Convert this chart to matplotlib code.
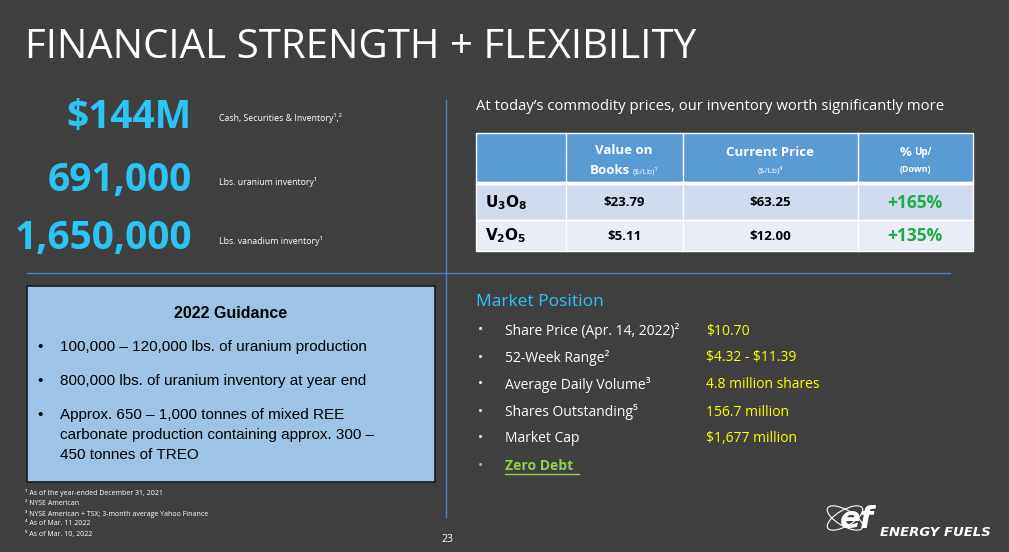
import matplotlib
matplotlib.use("Agg")
import matplotlib.pyplot as plt
from matplotlib.patches import Rectangle, Ellipse

# ---- slide content ----
title = "FINANCIAL STRENGTH + FLEXIBILITY"
big_numbers = ["$144M", "691,000", "1,650,000"]
big_labels = ["Cash, Securities & Inventory\u00b9\u02bc\u00b2".replace("\u02bc", ","),
              "Lbs. uranium inventory\u00b9", "Lbs. vanadium inventory\u00b9"]

table_intro = "At today\u2019s commodity prices, our inventory worth significantly more"
commodities = [r"$\mathbf{U_3O_8}$", r"$\mathbf{V_2O_5}$"]
book_values = ["$23.79", "$5.11"]
current_prices = ["$63.25", "$12.00"]
pct_change = ["+165%", "+135%"]

guidance_title = "2022 Guidance"
guidance_items = [
    ["100,000 \u2013 120,000 lbs. of uranium production"],
    ["800,000 lbs. of uranium inventory at year end"],
    ["Approx. 650 \u2013 1,000 tonnes of mixed REE",
     "carbonate production containing approx. 300 \u2013",
     "450 tonnes of TREO"],
]

market_labels = ["Share Price (Apr. 14, 2022)\u00b2", "52-Week Range\u00b2", "Average Daily Volume\u00b3",
                 "Shares Outstanding\u2075", "Market Cap"]
market_values = ["$10.70", "$4.32 - $11.39", "4.8 million shares", "156.7 million", "$1,677 million"]

footnotes = ["\u00b9 As of the year-ended December 31, 2021", "\u00b2 NYSE American",
             "\u00b3 NYSE American + TSX; 3-month average Yahoo Finance",
             "\u2074 As of Mar. 11 2022", "\u2075 As of Mar. 10, 2022"]

BG = "#404040"
CYAN = "#2BC4F5"
LINE = "#4F81BD"

fig = plt.figure(figsize=(10.09, 5.52), dpi=100)
fig.patch.set_facecolor(BG)
ax = fig.add_axes([0, 0, 1, 1])
ax.set_xlim(0, 1009)
ax.set_ylim(552, 0)
ax.axis("off")
ax.set_facecolor(BG)

F = "Open Sans"
ax.text(25, 48, title, color="white", fontsize=29, family=F, va="center")

# big numbers
for y, num, lab in zip([117, 180, 239], big_numbers, big_labels):
    ax.text(192, y, num, color=CYAN, fontsize=28, family=F, weight="bold", ha="right", va="center",
            parse_math=False)
    ax.text(219, y + 1 if y == 117 else y + 2, lab, color="white", fontsize=6.3, family=F, va="center")

# separators
ax.plot([446, 446], [100, 517], color=LINE, lw=1)
ax.plot([27, 950], [273, 273], color=LINE, lw=1)

# table
ax.text(476, 106, table_intro, color="white", fontsize=10.7, family=F, va="center")
cols = [476, 566, 683, 858, 973]
ax.add_patch(Rectangle((476, 133), 497, 49, fc="#5B9BD5", ec="white", lw=1))
ax.add_patch(Rectangle((476, 184), 497, 36, fc="#D0DBEE", ec="white", lw=1))
ax.add_patch(Rectangle((476, 220), 497, 31, fc="#E9EDF5", ec="white", lw=1))
for c in cols[1:-1]:
    ax.plot([c, c], [133, 251], color="white", lw=1)
ax.plot([477, 972], [183, 183], color="white", lw=2.5)
ax.text(624, 150, "Value on", color="white", fontsize=9.5, family=F, weight="bold", ha="center", va="center")
ax.text(630, 170, "Books", color="white", fontsize=9.5, family=F, weight="bold", ha="right", va="center")
ax.text(633, 171, "($/Lb)\u00b9", color="white", fontsize=6, family=F, ha="left", va="center",
        parse_math=False)
ax.text(770, 152, "Current Price", color="white", fontsize=9.5, family=F, weight="bold", ha="center", va="center")
ax.text(770, 170, "($/Lb)\u2074", color="white", fontsize=6, family=F, ha="center", va="center",
        parse_math=False)
ax.text(911, 152, "%", color="white", fontsize=9.5, family=F, weight="bold", ha="right", va="center")
ax.text(914, 153, "Up/", color="white", fontsize=7, family=F, weight="bold", ha="left", va="center")
ax.text(915, 170, "(Down)", color="white", fontsize=6.5, family=F, weight="bold", ha="center", va="center")
for y, com, bv, cp, pc in zip([203, 236], commodities, book_values, current_prices, pct_change):
    ax.text(485, y, com, color="black", fontsize=11, va="center")
    ax.text(624, y, bv, color="black", fontsize=9.5, family=F, weight="bold", ha="center", va="center",
            parse_math=False)
    ax.text(770, y, cp, color="black", fontsize=9.5, family=F, weight="bold", ha="center", va="center",
            parse_math=False)
    ax.text(915, y, pc, color="#1FAA4E", fontsize=12.5, family=F, weight="bold", ha="center", va="center")

# guidance box
ax.add_patch(Rectangle((27, 286), 408, 196, fc="#9DC3E6", ec="#1a1a1a", lw=1.2))
ax.text(231, 313, guidance_title, color="black", fontsize=11.5, family="Liberation Sans",
        weight="bold", ha="center", va="center")
gy = 347
for item in guidance_items:
    ax.text(37, gy, "\u2022", color="black", fontsize=11, family="Liberation Sans", va="center")
    for i, line in enumerate(item):
        ax.text(60, gy + 20 * i, line, color="black", fontsize=11, family="Liberation Sans", va="center")
    gy += 34

# market position
ax.text(476, 302, "Market Position", color=CYAN, fontsize=12.5, family=F, va="center")
for i, (lab, val) in enumerate(zip(market_labels, market_values)):
    y = 331 + 27 * i
    ax.text(478, y, "\u2022", color="white", fontsize=10, family=F, va="center")
    ax.text(505, y, lab, color="white", fontsize=10, family=F, va="center")
    ax.text(706, y, val, color="#FFFF00", fontsize=10, family=F, va="center", parse_math=False)
ax.text(478, 466, "\u2022", color="#92D050", fontsize=10, family=F, va="center")
ax.text(505, 466, "Zero Debt", color="#92D050", fontsize=10, family=F, weight="bold", va="center")
ax.plot([505, 579], [474, 474], color="#92D050", lw=1)

# footnotes
for i, fn in enumerate(footnotes):
    ax.text(25, 493 + 10.3 * i, fn, color="white", fontsize=5, family=F, va="center")
ax.text(447, 540, "23", color="white", fontsize=7.5, family=F, ha="center", va="center")

# logo
ax.add_patch(Ellipse((845, 518), 40, 16, angle=-30, fc="none", ec="white", lw=0.8))
ax.add_patch(Ellipse((845, 518), 40, 16, angle=30, fc="none", ec="white", lw=0.8))
ax.text(840, 520, "ef", color="white", fontsize=22, family="DejaVu Sans", weight="bold",
        style="italic", va="center")
ax.text(880, 532, "ENERGY FUELS", color="white", fontsize=9.5, family="DejaVu Sans", weight="bold",
        style="italic", va="center")

fig.savefig("out.png", dpi=100, facecolor=BG)
